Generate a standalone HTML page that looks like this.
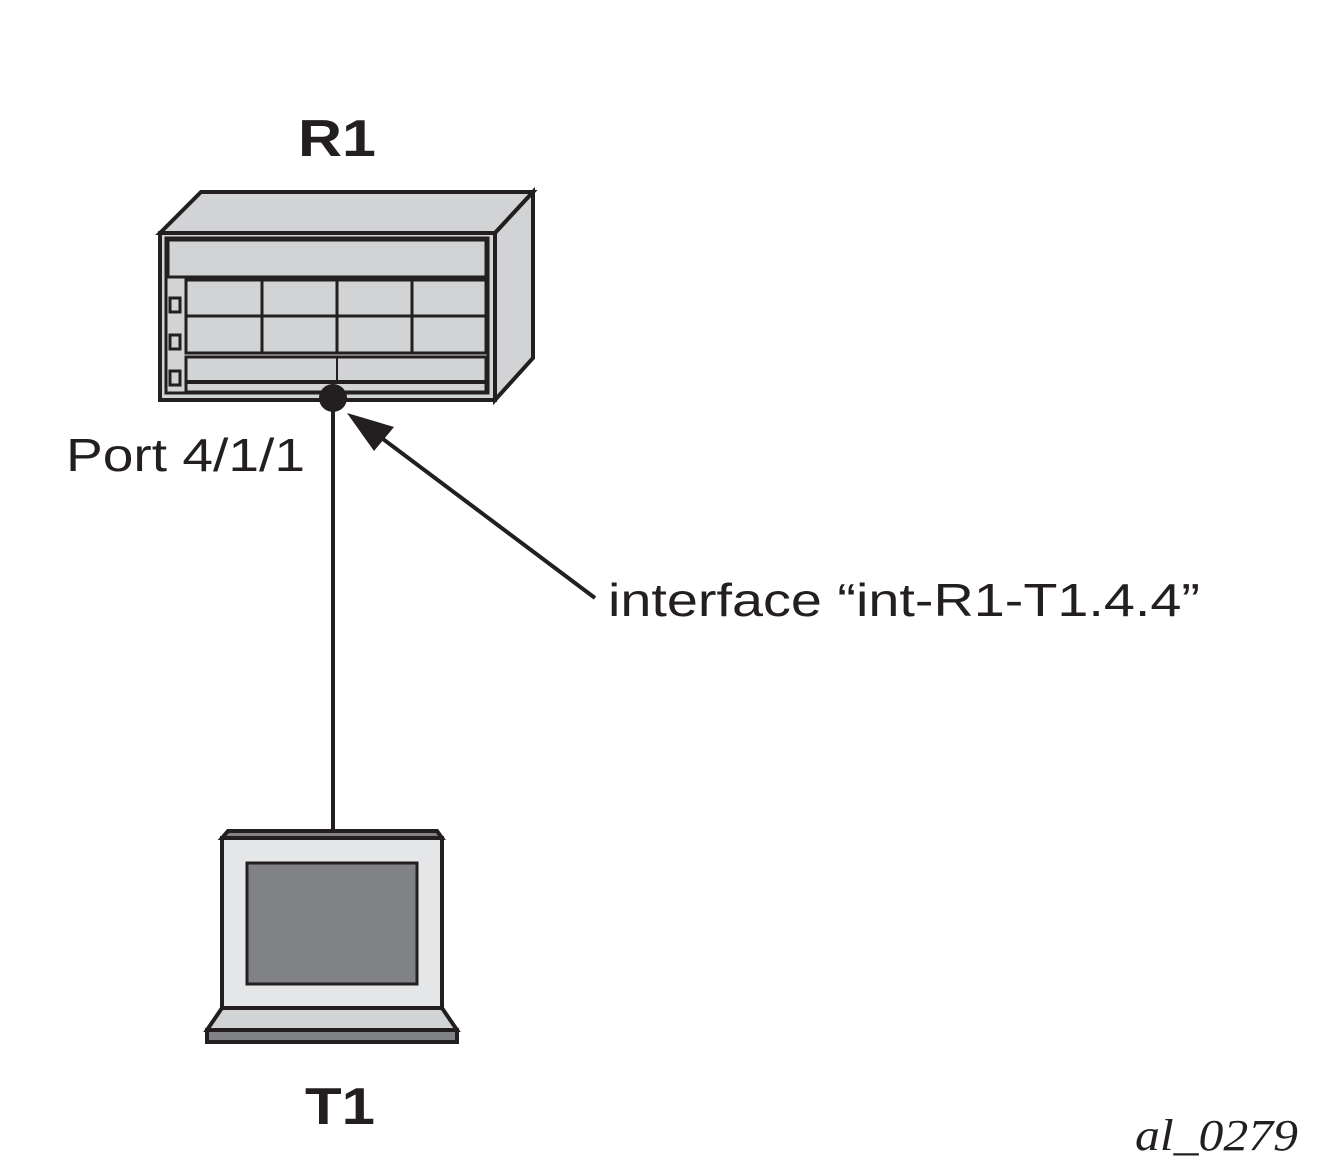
<!DOCTYPE html>
<html><head><meta charset="utf-8"><style>body{margin:0;background:#fff}</style></head><body>
<svg width="1336" height="1175" viewBox="0 0 1336 1175" xmlns="http://www.w3.org/2000/svg" style="display:block">
<g stroke="#231f20" stroke-width="4" stroke-linejoin="miter">
<polygon points="160,233 201,192 533,192 495,233" fill="#d1d3d4"/>
<polygon points="495,233 533,192 533,358 495,400" fill="#d1d3d4"/>
<rect x="160" y="233" width="335" height="167" fill="#d1d3d4"/>
<rect x="166" y="238" width="322" height="155" fill="#d1d3d4" stroke-width="3"/>
<rect x="168" y="240" width="318" height="37" fill="#d1d3d4" stroke-width="3"/>
<rect x="186" y="280" width="300" height="73" fill="#d1d3d4" stroke-width="3"/>
<line x1="186" y1="316" x2="486" y2="316" stroke-width="3"/>
<line x1="262" y1="280" x2="262" y2="353" stroke-width="3"/>
<line x1="337" y1="280" x2="337" y2="353" stroke-width="3"/>
<line x1="412" y1="280" x2="412" y2="353" stroke-width="3"/>
<rect x="186" y="357" width="300" height="35" fill="#d1d3d4" stroke-width="3"/>
<line x1="186" y1="382" x2="486" y2="382" stroke-width="4"/>
<line x1="337" y1="357" x2="337" y2="382" stroke-width="2"/>
<rect x="170" y="298" width="10" height="14" fill="#d1d3d4" stroke-width="3"/>
<rect x="170" y="335" width="10" height="14" fill="#d1d3d4" stroke-width="3"/>
<rect x="170" y="371" width="10" height="14" fill="#d1d3d4" stroke-width="3"/>
</g>
<line x1="333" y1="398" x2="333" y2="832" stroke="#231f20" stroke-width="4"/>
<circle cx="333" cy="398" r="14" fill="#231f20"/>
<line x1="595" y1="598" x2="375" y2="433" stroke="#231f20" stroke-width="4"/>
<polygon points="347,413 394,427 374,451" fill="#231f20"/>
<g stroke="#231f20" stroke-width="4">
<polygon points="222,838 228,831 437,831 442,838" fill="#808285"/>
<rect x="222" y="838" width="220" height="170" fill="#e6e7e8"/>
<rect x="247" y="863" width="170" height="121" fill="#808285" stroke-width="3"/>
<polygon points="222,1008 442,1008 457,1030 207,1030" fill="#d1d3d4"/>
<rect x="207" y="1030" width="250" height="12" fill="#808285"/>
</g>
<g font-family="Liberation Sans, sans-serif" fill="#231f20" lengthAdjust="spacingAndGlyphs">
<text x="298" y="156" font-size="52" font-weight="bold" textLength="78" lengthAdjust="spacingAndGlyphs">R1</text>
<text x="305" y="1124" font-size="52" font-weight="bold" textLength="70" lengthAdjust="spacingAndGlyphs">T1</text>
<text x="66" y="471" font-size="46" textLength="239" lengthAdjust="spacingAndGlyphs">Port 4/1/1</text>
<text x="608" y="616" font-size="46" textLength="592" lengthAdjust="spacingAndGlyphs">interface “int-R1-T1.4.4”</text>
</g>
<text x="1135" y="1150" font-family="Liberation Serif, serif" font-style="italic" font-size="44" fill="#231f20" textLength="163" lengthAdjust="spacingAndGlyphs">al_0279</text>
</svg>
</body></html>
